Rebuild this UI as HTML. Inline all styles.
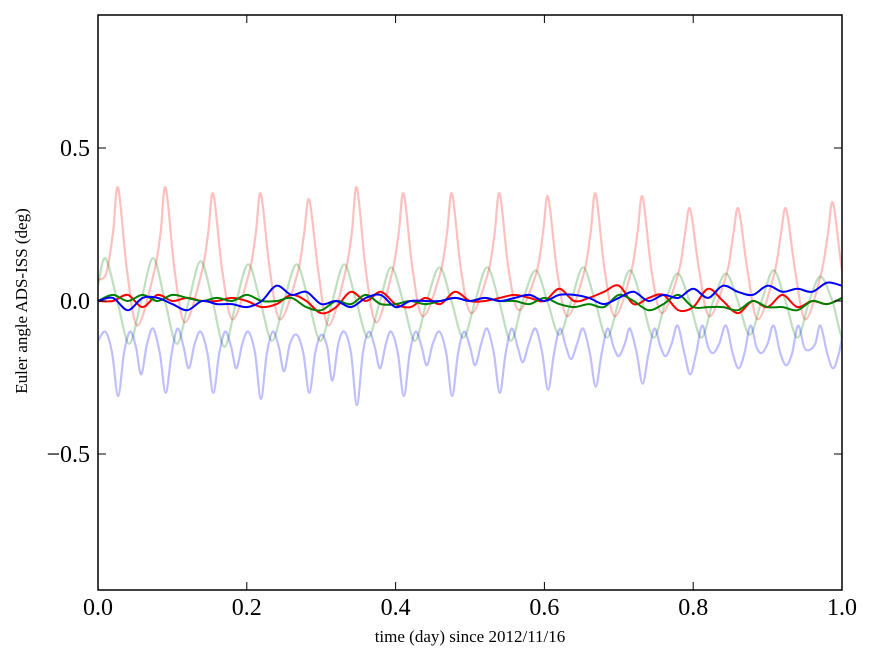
<!DOCTYPE html>
<html><head><meta charset="utf-8"><style>
html,body{margin:0;padding:0;background:#fff;}
svg{display:block;font-family:"Liberation Serif",serif;}
</style></head><body>
<svg id="chart" width="875" height="662">
<defs><clipPath id="clip"><rect x="98" y="15" width="744" height="575"/></clipPath></defs>
<rect x="0" y="0" width="875" height="662" fill="#fff"/>
<g id="series" clip-path="url(#clip)"></g>
<rect x="98" y="15" width="744" height="575" fill="none" stroke="#000" stroke-width="1.5"/>
<g id="axes"></g>
<text x="470" y="642" font-size="17" text-anchor="middle">time (day) since 2012/11/16</text>
<text x="27" y="301" font-size="17" text-anchor="middle" transform="rotate(-90 27 301)">Euler angle ADS-ISS (deg)</text>
</svg>
<script>
const xTicks=[0,0.2,0.4,0.6,0.8,1.0];
const xTickLabels=["0.0","0.2","0.4","0.6","0.8","1.0"];
const yTicks=[-0.5,0,0.5];
const yTickLabels=["\u22120.5","0.0","0.5"];
const cycleDays=[0.027,0.091,0.155,0.219,0.284,0.348,0.411,0.476,0.540,0.605,0.669,0.732,0.796,0.861,0.925,0.988];
const redPeakV=[0.37,0.37,0.35,0.35,0.33,0.37,0.35,0.35,0.35,0.34,0.35,0.34,0.30,0.30,0.30,0.32];
const redTroughV=[-0.08,-0.07,-0.06,-0.06,-0.08,-0.07,-0.05,-0.04,-0.03,-0.05,-0.05,-0.04,-0.05,-0.06,-0.06,-0.05];
const greenPeakV=[0.14,0.14,0.13,0.12,0.12,0.12,0.11,0.11,0.11,0.10,0.11,0.10,0.09,0.09,0.10,0.08];
const greenTroughV=[-0.14,-0.14,-0.15,-0.13,-0.13,-0.12,-0.13,-0.12,-0.13,-0.11,-0.12,-0.12,-0.12,-0.11,-0.12,-0.13];
const bluePeakV=[-0.10,-0.09,-0.10,-0.10,-0.11,-0.10,-0.10,-0.10,-0.09,-0.09,-0.09,-0.09,-0.08,-0.08,-0.08,-0.08];
const blueDeepV=[-0.31,-0.30,-0.30,-0.32,-0.30,-0.34,-0.31,-0.31,-0.30,-0.29,-0.28,-0.27,-0.24,-0.22,-0.21,-0.22];
const blueShallowV=[-0.24,-0.22,-0.22,-0.23,-0.26,-0.22,-0.21,-0.21,-0.20,-0.19,-0.18,-0.18,-0.17,-0.17,-0.16,-0.17];
const darkDays=[0,0.02,0.04,0.06,0.08,0.10,0.12,0.14,0.16,0.18,0.20,0.22,0.24,0.26,0.28,0.30,0.32,0.34,0.36,0.38,0.40,0.42,0.44,0.46,0.48,0.50,0.52,0.54,0.56,0.58,0.60,0.62,0.64,0.66,0.68,0.70,0.72,0.74,0.76,0.78,0.80,0.82,0.84,0.86,0.88,0.90,0.92,0.94,0.96,0.98,1.0];
const redDark=[0.0,0.0,0.02,-0.02,0.02,0.0,0.01,0.0,0.0,0.01,0.0,-0.02,-0.01,0.02,0.0,-0.04,-0.02,0.03,0.0,0.03,-0.01,-0.02,0.01,-0.01,0.03,0.0,0.0,0.01,0.02,0.01,0.0,0.04,0.0,0.01,0.03,0.05,-0.01,0.01,0.02,-0.03,-0.02,0.04,0.0,-0.04,0.0,-0.02,0.02,-0.02,0.0,-0.01,0.01];
const greenDark=[0.0,0.02,0.0,0.02,0.0,0.02,0.01,0.0,0.01,0.0,0.02,0.0,0.0,0.01,-0.02,-0.03,0.0,-0.01,0.02,-0.01,-0.01,0.0,-0.01,0.0,0.01,0.0,0.01,0.0,0.0,-0.01,0.01,-0.01,-0.02,-0.01,-0.02,0.02,0.0,-0.03,-0.01,0.02,-0.02,-0.02,-0.02,-0.03,0.0,-0.02,-0.02,-0.03,0.0,-0.01,0.01];
const blueDark=[0.0,0.01,-0.03,0.01,0.01,-0.01,-0.03,0.0,-0.01,-0.01,-0.02,0.0,0.05,0.02,0.03,-0.01,0.0,-0.02,0.01,0.02,-0.02,0.0,0.0,0.0,0.01,0.0,0.01,0.0,0.01,0.02,0.0,0.02,0.02,0.01,-0.01,0.01,0.03,0.0,0.02,0.01,0.04,0.01,0.05,0.03,0.02,0.05,0.03,0.04,0.03,0.06,0.05];

const X=d=>98+d*744;
const Y=v=>301-v*306;
const NS="http://www.w3.org/2000/svg";
const g=document.getElementById('series');
const ax=document.getElementById('axes');

function smoothPath(pts){
  const P=pts.map(p=>[X(p[0]),Y(p[1])]);
  let d='M'+P[0][0].toFixed(1)+' '+P[0][1].toFixed(1);
  for(let i=0;i<P.length-1;i++){
    const p0=P[Math.max(0,i-1)],p1=P[i],p2=P[i+1],p3=P[Math.min(P.length-1,i+2)];
    const c1=[p1[0]+(p2[0]-p0[0])/6,p1[1]+(p2[1]-p0[1])/6];
    const c2=[p2[0]-(p3[0]-p1[0])/6,p2[1]-(p3[1]-p1[1])/6];
    d+=' C'+c1[0].toFixed(1)+' '+c1[1].toFixed(1)+' '+c2[0].toFixed(1)+' '+c2[1].toFixed(1)+' '+p2[0].toFixed(1)+' '+p2[1].toFixed(1);
  }
  return d;
}
function addLine(pts,color,op,w,name){
  const p=document.createElementNS(NS,'path');
  p.setAttribute('d',smoothPath(pts));
  p.setAttribute('fill','none');p.setAttribute('stroke',color);
  p.setAttribute('stroke-opacity',op);p.setAttribute('stroke-width',w);
  p.setAttribute('stroke-linejoin','round');
  
  
  g.appendChild(p);
}
const redPale=[[0,0.07]],greenPale=[[0,0.05]],bluePale=[[0,-0.13]];
cycleDays.forEach((P,i)=>{
  redPale.push([P-0.016,0.09],[P-0.007,0.22],[P,redPeakV[i]],[P+0.012,0.10],[P+0.026,redTroughV[i]]);
  greenPale.push([P-0.017,greenPeakV[i]],[P-0.001,0],[P+0.015,greenTroughV[i]],[P+0.031,0]);
  bluePale.push([P-0.017,bluePeakV[i]],[P-0.008,-0.17],[P,blueDeepV[i]],[P+0.008,-0.17],[P+0.016,bluePeakV[i]],[P+0.024,-0.15],[P+0.031,blueShallowV[i]],[P+0.039,-0.14]);
});
addLine(redPale,'#ff0000',0.25,2.2,'series-red-pale');
addLine(greenPale,'#008000',0.25,2.2,'series-green-pale');
addLine(bluePale,'#0000ff',0.25,2.2,'series-blue-pale');
addLine(darkDays.map((d,i)=>[d,redDark[i]]),'#ff0000',1,2,'series-red');
addLine(darkDays.map((d,i)=>[d,greenDark[i]]),'#008000',1,2,'series-green');
addLine(darkDays.map((d,i)=>[d,blueDark[i]]),'#0000ff',1,2,'series-blue');

function mk(tag,attrs,name){const e=document.createElementNS(NS,tag);for(const k in attrs)e.setAttribute(k,attrs[k]);
  
  
  ax.appendChild(e);return e;}
xTicks.forEach((t,i)=>{
  const x=X(t);
  mk('line',{x1:x,x2:x,y1:590,y2:582,stroke:'#000','stroke-width':1},'x-tick');
  mk('line',{x1:x,x2:x,y1:15,y2:23,stroke:'#000','stroke-width':1},'x-tick-top');
  const tx=mk('text',{x:x,y:615,'font-size':24,'text-anchor':'middle'},'x-tick-label');tx.textContent=xTickLabels[i];
});
yTicks.forEach((t,i)=>{
  const y=Y(t);
  mk('line',{x1:98,x2:106,y1:y,y2:y,stroke:'#000','stroke-width':1},'y-tick');
  mk('line',{x1:842,x2:834,y1:y,y2:y,stroke:'#000','stroke-width':1},'y-tick-right');
  const tx=mk('text',{x:90,y:y+8,'font-size':24,'text-anchor':'end'},'y-tick-label');tx.textContent=yTickLabels[i];
});
</script>
</body></html>
